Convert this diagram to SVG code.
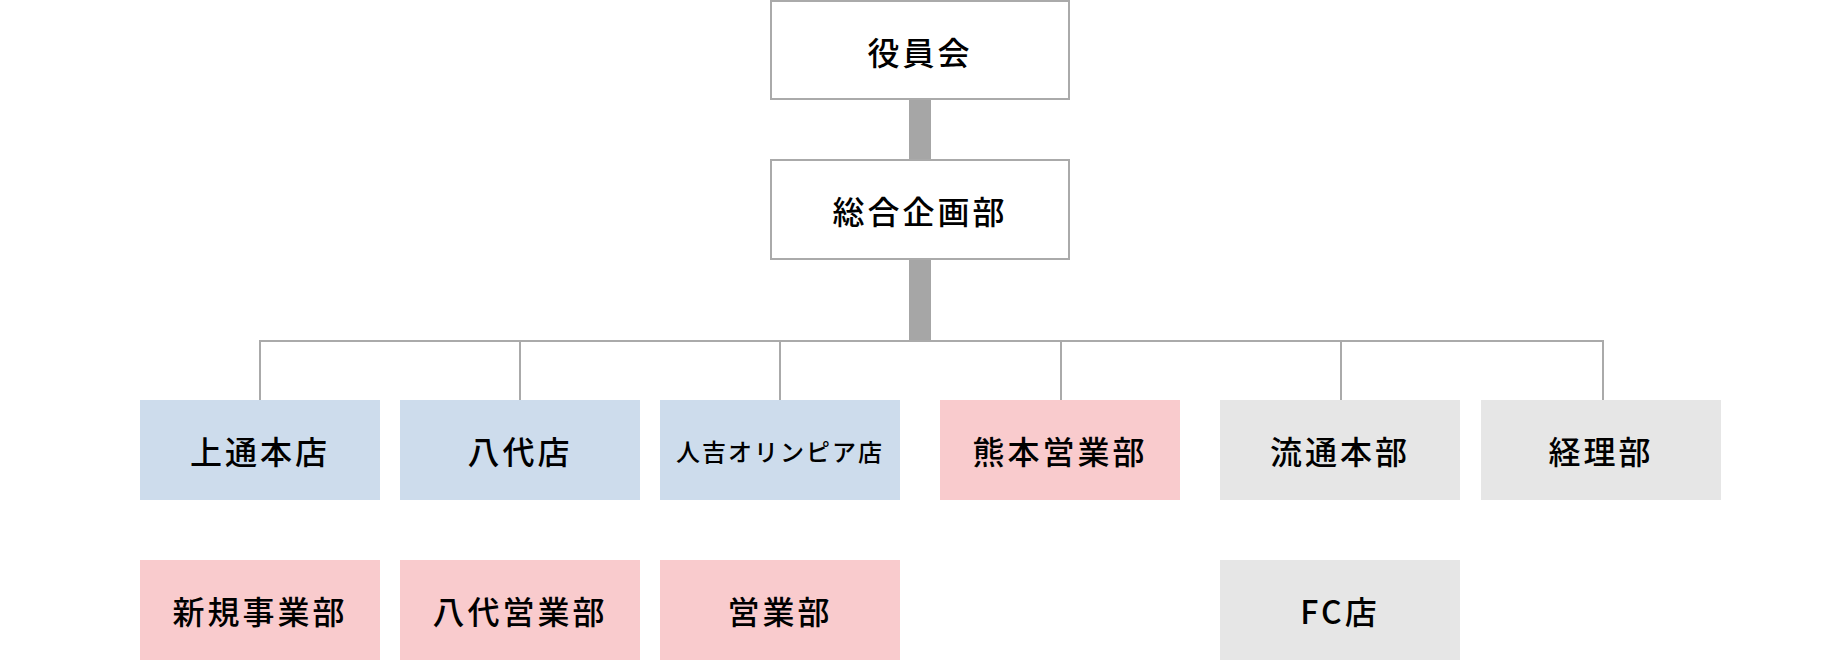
<svg xmlns="http://www.w3.org/2000/svg" width="1840" height="660" viewBox="0 0 1840 660">
<style>
text{font-family:"Noto Sans CJK JP","Noto Sans",sans-serif;font-weight:500;font-size:32px;letter-spacing:3px;fill:#000;text-anchor:middle;dominant-baseline:central}
.sm{font-size:24px;letter-spacing:2px}
.top{fill:#fff;stroke:#aaa;stroke-width:2}
.blue{fill:#cddcec}
.pink{fill:#f9cbcd}
.gray{fill:#e6e6e6}
.ln{stroke:#aaa;stroke-width:2;fill:none}
.thick{fill:#a6a6a6}
</style>
<rect width="1840" height="660" fill="#fff"/>
<g id="connectors">
<rect class="thick" x="909" y="99" width="22" height="62"/>
<rect class="thick" x="909" y="259" width="22" height="82"/>
<polyline class="ln" points="260,400 260,341 1603,341 1603,400"/>
<line class="ln" x1="520" y1="341" x2="520" y2="400"/>
<line class="ln" x1="780" y1="341" x2="780" y2="400"/>
<line class="ln" x1="1061" y1="341" x2="1061" y2="400"/>
<line class="ln" x1="1341" y1="341" x2="1341" y2="400"/>
</g>
<g id="n-yakuinkai"><rect class="top" x="771" y="1" width="298" height="98"/><text x="920" y="51">役員会</text></g>
<g id="n-sogokikaku"><rect class="top" x="771" y="160" width="298" height="99"/><text x="920" y="210">総合企画部</text></g>
<g id="n-kamitori"><rect class="blue" x="140" y="400" width="240" height="100"/><text x="260" y="450">上通本店</text></g>
<g id="n-yatsushiro"><rect class="blue" x="400" y="400" width="240" height="100"/><text x="520" y="450">八代店</text></g>
<g id="n-hitoyoshi"><rect class="blue" x="660" y="400" width="240" height="100"/><text class="sm" x="780" y="450">人吉オリンピア店</text></g>
<g id="n-kumamoto"><rect class="pink" x="940" y="400" width="240" height="100"/><text x="1060" y="450">熊本営業部</text></g>
<g id="n-ryutsu"><rect class="gray" x="1220" y="400" width="240" height="100"/><text x="1340" y="450">流通本部</text></g>
<g id="n-keiri"><rect class="gray" x="1481" y="400" width="240" height="100"/><text x="1601" y="450">経理部</text></g>
<g id="n-shinki"><rect class="pink" x="140" y="560" width="240" height="100"/><text x="260" y="610">新規事業部</text></g>
<g id="n-yatsushiro-eigyo"><rect class="pink" x="400" y="560" width="240" height="100"/><text x="520" y="610">八代営業部</text></g>
<g id="n-eigyo"><rect class="pink" x="660" y="560" width="240" height="100"/><text x="780" y="610">営業部</text></g>
<g id="n-fc"><rect class="gray" x="1220" y="560" width="240" height="100"/><text x="1340" y="610">FC店</text></g>
</svg>
